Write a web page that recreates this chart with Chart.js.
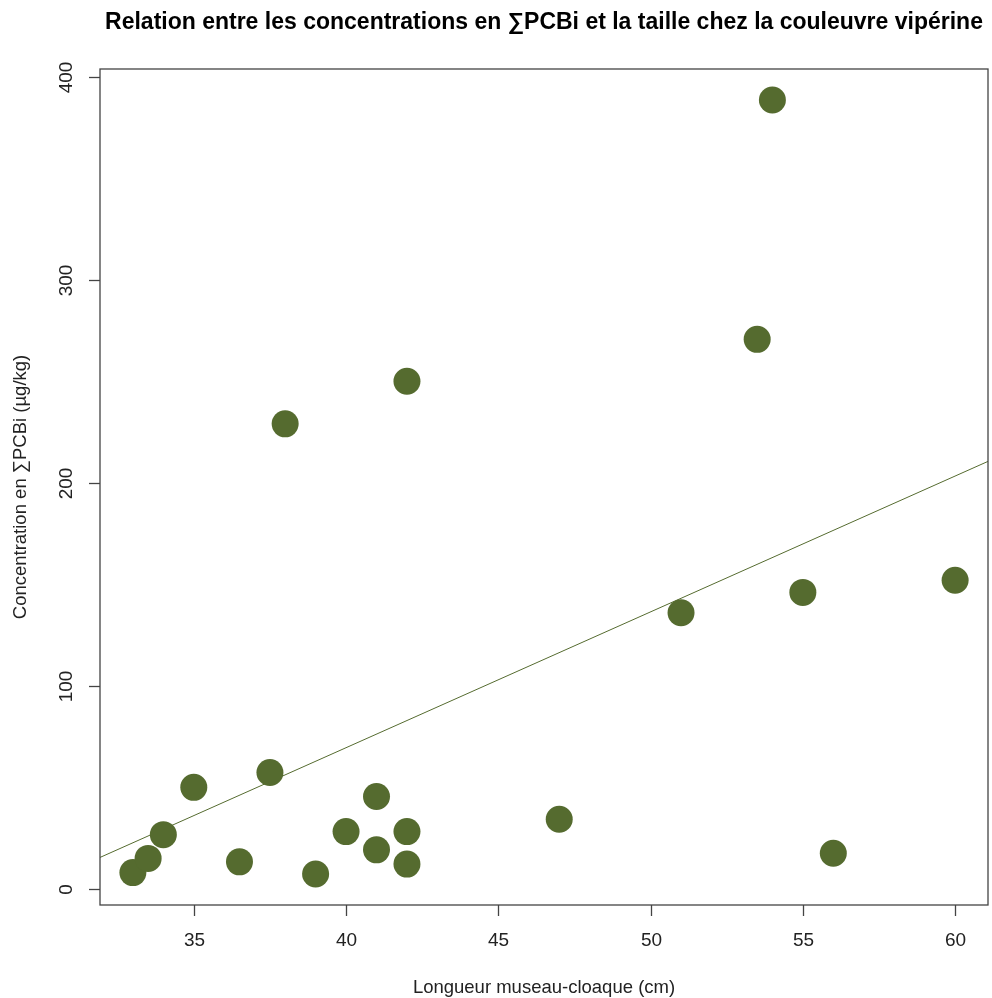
<!DOCTYPE html>
<html>
<head>
<meta charset="utf-8">
<script src="https://cdn.jsdelivr.net/npm/chart.js@4/dist/chart.umd.min.js"></script>
<style>
  html,body{margin:0;padding:0;background:#fff;}
  #wrap{width:992px;height:998px;}
</style>
</head>
<body>
<div id="wrap"><canvas id="chart" width="992" height="998"></canvas></div>
<script>
// === données ===
const longueur=[33,33.5,34,35,36.5,37.5,38,39,40,41,41,42,42,42,47,51,53.5,54,55,56,60];
const pcb     =[8,15,26.7,50,13.3,57.3,229,7.3,28.2,45.5,19.2,250,28.2,12.2,34.3,136,270.6,388.5,146,17.5,152];
const xTicks=[35,40,45,50,55,60];
const yTicks=[0,100,200,300,400];

const titre='Relation entre les concentrations en ∑PCBi et la taille chez la couleuvre vipérine';
const xTitre='Longueur museau-cloaque (cm)';
const yTitre='Concentration en ∑PCBi (µg/kg)';
const olive='#556B2F';

// === étendue façon R (+4%) ===
function etendue(v){
  const lo=Math.min(...v),hi=Math.max(...v),d=(hi-lo)*0.04;
  return [lo-d,hi+d];
}
const [xmin,xmax]=etendue(longueur);
const [ymin,ymax]=etendue(pcb);

// === droite des moindres carrés ===
const n=longueur.length;
const mx=longueur.reduce((s,v)=>s+v,0)/n;
const my=pcb.reduce((s,v)=>s+v,0)/n;
let sxy=0,sxx=0;
for(let i=0;i<n;i++){sxy+=(longueur[i]-mx)*(pcb[i]-my);sxx+=(longueur[i]-mx)**2;}
const pente=sxy/sxx, origine=my-pente*mx;
const droite=[{x:xmin,y:origine+pente*xmin},{x:xmax,y:origine+pente*xmax}];

// === axes façon R ===
const axesR={
  id:'axesR',
  afterDraw(chart){
    const {ctx,chartArea:a,scales:{x,y}}=chart;
    ctx.save();
    ctx.strokeStyle='#444';ctx.lineWidth=1.3;
    ctx.strokeRect(a.left,a.top,a.right-a.left,a.bottom-a.top);
    ctx.fillStyle='#222';
    ctx.font='19px "Liberation Sans", Arial, sans-serif';
    ctx.textAlign='center';ctx.textBaseline='middle';
    xTicks.forEach(t=>{
      const px=Math.round(x.getPixelForValue(t))+0.5;
      ctx.beginPath();ctx.moveTo(px,a.bottom);ctx.lineTo(px,a.bottom+11);ctx.stroke();
      ctx.fillText(String(t),px,941);
    });
    yTicks.forEach(t=>{
      const py=Math.round(y.getPixelForValue(t))+0.5;
      ctx.beginPath();ctx.moveTo(a.left,py);ctx.lineTo(a.left-11,py);ctx.stroke();
      ctx.save();ctx.translate(67,py);ctx.rotate(-Math.PI/2);
      ctx.fillText(String(t),0,0);ctx.restore();
    });
    // titres
    ctx.font='18.5px "Liberation Sans", Arial, sans-serif';
    ctx.fillText(xTitre,(a.left+a.right)/2,988);
    ctx.save();ctx.translate(21,(a.top+a.bottom)/2);ctx.rotate(-Math.PI/2);
    ctx.fillText(yTitre,0,0);ctx.restore();
    ctx.fillStyle='#000';
    ctx.font='bold 23px "Liberation Sans", Arial, sans-serif';
    ctx.fillText(titre,(a.left+a.right)/2,23);
    ctx.restore();
  }
};

new Chart(document.getElementById('chart'),{
  type:'scatter',
  data:{
    datasets:[
      {
        type:'line',data:droite,borderColor:olive,borderWidth:1,
        pointRadius:0,fill:false,order:0
      },
      {
        data:longueur.map((v,i)=>({x:v,y:pcb[i]})),
        backgroundColor:olive,borderColor:olive,borderWidth:0,
        pointRadius:13.5,pointHoverRadius:13.5,order:1
      }
    ]
  },
  options:{
    responsive:false,animation:false,
    layout:{autoPadding:false,padding:{left:100,top:69,right:4,bottom:93}},
    plugins:{legend:{display:false},tooltip:{enabled:false},title:{display:false}},
    scales:{
      x:{type:'linear',min:xmin,max:xmax,display:false},
      y:{type:'linear',min:ymin,max:ymax,display:false}
    }
  },
  plugins:[axesR]
});
</script>
</body>
</html>
